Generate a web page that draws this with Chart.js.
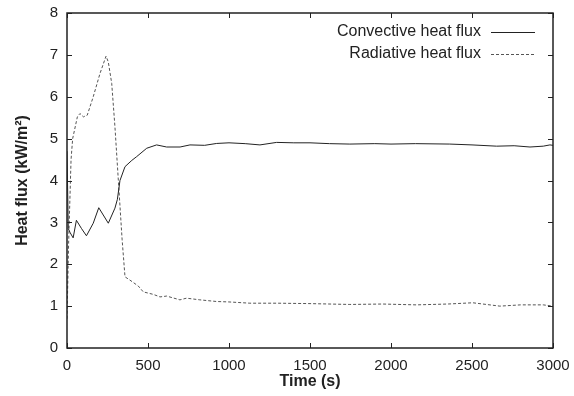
<!DOCTYPE html>
<html>
<head>
<meta charset="utf-8">
<script src="https://cdn.jsdelivr.net/npm/chart.js@4"></script>
<style>
  html, body { margin: 0; padding: 0; background: #fff; }
  #wrap { width: 574px; height: 396px; }
</style>
</head>
<body>
<div id="wrap"><canvas id="chart" width="574" height="396"></canvas></div>
<script>
const convTime = [0, 8, 20, 38, 58, 90, 120, 162, 196, 220, 255, 296, 311, 327, 358, 400, 430, 492, 553, 615, 698, 759, 850, 924, 1000, 1100, 1191, 1294, 1400, 1500, 1620, 1746, 1900, 2000, 2150, 2363, 2500, 2652, 2760, 2858, 2940, 2981, 3000];
const convFlux = [4.7, 2.85, 2.75, 2.63, 3.05, 2.85, 2.68, 2.98, 3.35, 3.2, 2.98, 3.34, 3.55, 4.0, 4.33, 4.48, 4.57, 4.77, 4.85, 4.8, 4.8, 4.85, 4.84, 4.885, 4.9, 4.88, 4.85, 4.91, 4.9, 4.9, 4.88, 4.87, 4.88, 4.87, 4.88, 4.87, 4.85, 4.82, 4.83, 4.8, 4.82, 4.85, 4.84];

const radTime = [0, 10, 25, 35, 64, 80, 101, 125, 162, 204, 241, 255, 276, 296, 317, 340, 358, 389, 440, 471, 533, 574, 615, 697, 738, 820, 924, 1000, 1129, 1300, 1500, 1746, 1950, 2157, 2350, 2505, 2672, 2800, 2940, 3000];
const radFlux = [0.7, 2.5, 4.5, 5.0, 5.52, 5.6, 5.52, 5.56, 6.0, 6.56, 6.97, 6.83, 6.32, 5.28, 4.0, 2.6, 1.7, 1.62, 1.48, 1.34, 1.28, 1.22, 1.24, 1.15, 1.19, 1.15, 1.11, 1.1, 1.07, 1.07, 1.06, 1.04, 1.05, 1.03, 1.05, 1.08, 1.0, 1.03, 1.03, 1.0];

const seriesLabels = ["Convective heat flux", "Radiative heat flux"];
const xTicks = [0, 500, 1000, 1500, 2000, 2500, 3000];
const yTicks = [0, 1, 2, 3, 4, 5, 6, 7, 8];

const FONT = "'Liberation Sans', Arial, sans-serif";
const INK = "#222";

function toPoints(xs, ys) {
  return xs.map((x, i) => ({ x: x, y: ys[i] }));
}

// gnuplot style frame: box plus inward ticks on all four sides
const framePlugin = {
  id: "frame",
  afterDatasetsDraw(chart) {
    const { ctx, chartArea: a, scales } = chart;
    const len = 5;
    ctx.save();
    ctx.strokeStyle = INK;
    ctx.lineWidth = 1;
    ctx.beginPath();
    xTicks.forEach((v) => {
      const px = Math.round(scales.x.getPixelForValue(v)) + 0.5;
      ctx.moveTo(px, a.bottom);
      ctx.lineTo(px, a.bottom - len);
      ctx.moveTo(px, a.top);
      ctx.lineTo(px, a.top + len);
    });
    yTicks.forEach((v) => {
      const py = Math.round(scales.y.getPixelForValue(v)) + 0.5;
      ctx.moveTo(a.left, py);
      ctx.lineTo(a.left + len, py);
      ctx.moveTo(a.right, py);
      ctx.lineTo(a.right - len, py);
    });
    ctx.stroke();
    ctx.lineWidth = 1.5;
    ctx.strokeRect(a.left, a.top, a.right - a.left, a.bottom - a.top);

    // legend in the top right corner
    ctx.font = "16px " + FONT;
    ctx.textAlign = "right";
    ctx.textBaseline = "middle";
    ctx.fillStyle = INK;
    chart.data.datasets.forEach((ds, i) => {
      const y = a.top + 19 + i * 22;
      ctx.fillText(ds.label, a.right - 72, y);
      ctx.beginPath();
      ctx.lineWidth = 1;
      ctx.strokeStyle = ds.borderColor;
      ctx.setLineDash(ds.borderDash || []);
      ctx.moveTo(a.right - 62, y + 0.5);
      ctx.lineTo(a.right - 18, y + 0.5);
      ctx.stroke();
      ctx.setLineDash([]);
    });
    ctx.restore();
  },
};

new Chart(document.getElementById("chart"), {
  type: "line",
  data: {
    datasets: [
      {
        label: seriesLabels[0],
        data: toPoints(convTime, convFlux),
        borderColor: "#222",
        borderWidth: 1,
        pointRadius: 0,
        tension: 0,
      },
      {
        label: seriesLabels[1],
        data: toPoints(radTime, radFlux),
        borderColor: "#555",
        borderWidth: 1,
        borderDash: [3, 2],
        pointRadius: 0,
        tension: 0,
      },
    ],
  },
  options: {
    responsive: false,
    animation: false,
    layout: { padding: { top: 13, right: 21, left: 0, bottom: 0 } },
    plugins: {
      legend: { display: false },
      tooltip: { enabled: false },
    },
    scales: {
      x: {
        type: "linear",
        min: 0,
        max: 3000,
        afterBuildTicks: (s) => { s.ticks = xTicks.map((v) => ({ value: v })); },
        afterFit: (s) => { s.height = 48; s.paddingLeft = 0; s.paddingRight = 0; },
        grid: { display: false, drawTicks: false },
        border: { display: false },
        ticks: {
          padding: 9,
          color: INK,
          font: { family: FONT, size: 15 },
          maxRotation: 0,
          callback: (v) => String(v),
        },
        title: {
          display: true,
          text: "Time (s)",
          color: INK,
          font: { family: FONT, size: 16, weight: "bold" },
          padding: { top: 0, bottom: 5 },
        },
      },
      y: {
        min: 0,
        max: 8,
        afterBuildTicks: (s) => { s.ticks = yTicks.map((v) => ({ value: v })); },
        afterFit: (s) => { s.width = 67; s.paddingTop = 0; s.paddingBottom = 0; },
        grid: { display: false, drawTicks: false },
        border: { display: false },
        ticks: {
          padding: 9,
          color: INK,
          font: { family: FONT, size: 15 },
          callback: (v) => String(v),
        },
        title: {
          display: true,
          text: "Heat flux (kW/m²)",
          color: INK,
          font: { family: FONT, size: 16, weight: "bold" },
          padding: { top: 13, bottom: 0 },
        },
      },
    },
  },
  plugins: [framePlugin],
});
</script>
</body>
</html>
